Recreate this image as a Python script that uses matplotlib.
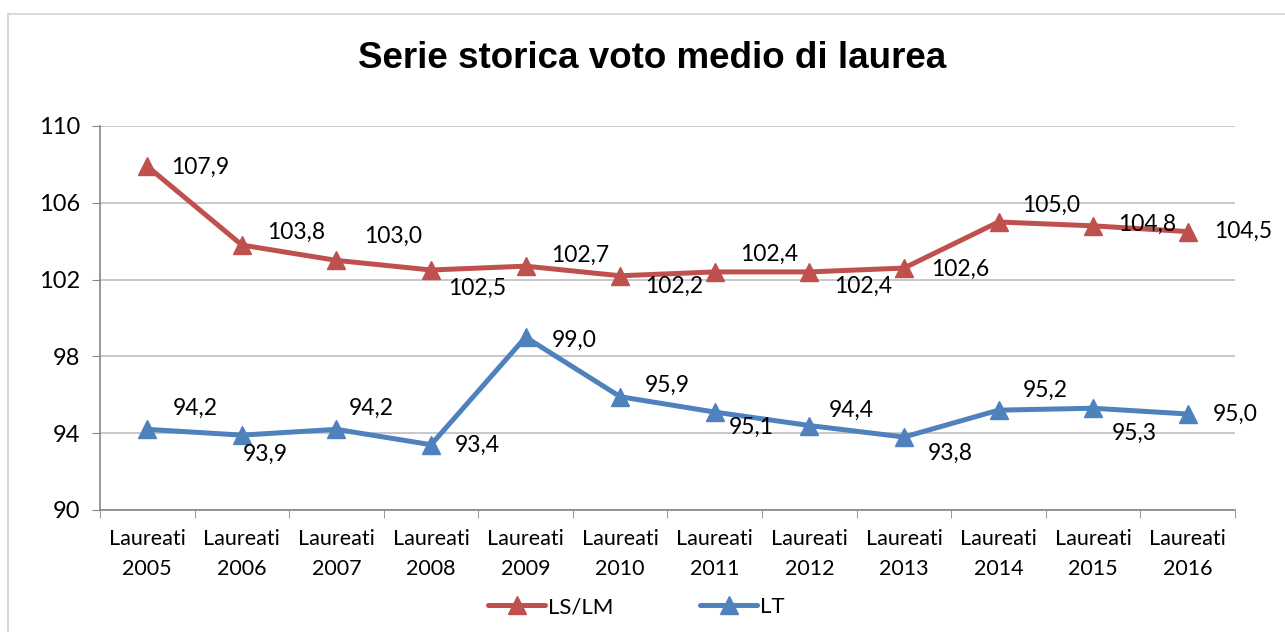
import matplotlib.pyplot as plt
from matplotlib.patches import Rectangle

# dati
anni = ["2005", "2006", "2007", "2008", "2009", "2010",
        "2011", "2012", "2013", "2014", "2015", "2016"]
categorie = ["Laureati\n" + a for a in anni]
ls_lm = [107.9, 103.8, 103.0, 102.5, 102.7, 102.2, 102.4, 102.4, 102.6, 105.0, 104.8, 104.5]
lt = [94.2, 93.9, 94.2, 93.4, 99.0, 95.9, 95.1, 94.4, 93.8, 95.2, 95.3, 95.0]

# spostamento etichette (pixel): sinistra del testo, centro verticale
off_ls = [(24, -1), (25, 13), (28, 24), (17, -18), (25, 11), (25, -11),
          (25, 18), (25, -14), (27, -1), (24, 17), (25, 1), (26, 0)]
off_lt = [(25, 21), (1, -19), (12, 21), (24, -1), (26, -3), (25, 11),
          (14, -15), (19, 15), (24, -16), (24, 20), (19, -25), (25, 0)]

rosso = "#C0504D"
blu = "#4F81BD"
font = ["Lato", "DejaVu Sans"]
plt.rcParams["font.family"] = font

fig = plt.figure(figsize=(12.85, 6.32), dpi=100)
ax = fig.add_axes([100 / 1285, 1 - 510 / 632, 1135 / 1285, 384 / 632])

# cornice del grafico
fig.patches.append(Rectangle((8 / 1285, -0.1), 1.1, 1 - 14 / 632 + 0.1,
                             transform=fig.transFigure, fill=False,
                             edgecolor="#D9D9D9", linewidth=1.5))

x = list(range(len(categorie)))
ax.plot(x, ls_lm, color=rosso, lw=3.6, marker="^", markersize=12.5, label="LS/LM",
        solid_capstyle="round")
ax.plot(x, lt, color=blu, lw=3.6, marker="^", markersize=12.5, label="LT",
        solid_capstyle="round")

for serie, offs in ((ls_lm, off_ls), (lt, off_lt)):
    for i, v in enumerate(serie):
        ax.annotate(f"{v:.1f}".replace(".", ","), (i, v), xytext=offs[i],
                    textcoords="offset pixels", ha="left", va="center",
                    fontsize=16.5, color="black")

ax.set_xlim(-0.5, len(categorie) - 0.5)
ax.set_ylim(90, 110)
ax.set_yticks([90, 94, 98, 102, 106, 110])
ax.yaxis.grid(True, color="#BFBFBF", lw=1.2)
ax.set_axisbelow(True)
ax.set_xticks(x)
ax.set_xticklabels(categorie, fontsize=15.5, linespacing=1.6)
ax.set_xticks([i + 0.5 for i in range(-1, len(categorie))], minor=True)
ax.tick_params(axis="x", which="major", length=0, pad=14)
ax.tick_params(axis="x", which="minor", length=6, color="#868686")
ax.tick_params(axis="y", length=6, color="#868686", labelsize=17, pad=8)
for s in ("top", "right"):
    ax.spines[s].set_visible(False)
for s in ("left", "bottom"):
    ax.spines[s].set_color("#868686")
    ax.spines[s].set_linewidth(1.2)

fig.text(652 / 1285, 1 - 58 / 632, "Serie storica voto medio di laurea",
         ha="center", va="center", fontsize=26.5, fontweight="bold",
         family="Liberation Sans")

fig.legend(loc="center", bbox_to_anchor=(636 / 1285, 1 - 607 / 632), ncol=2,
           frameon=False, fontsize=16, handlelength=2.6, columnspacing=3.9,
           handletextpad=0.1)

fig.savefig("out.png", dpi=100)
